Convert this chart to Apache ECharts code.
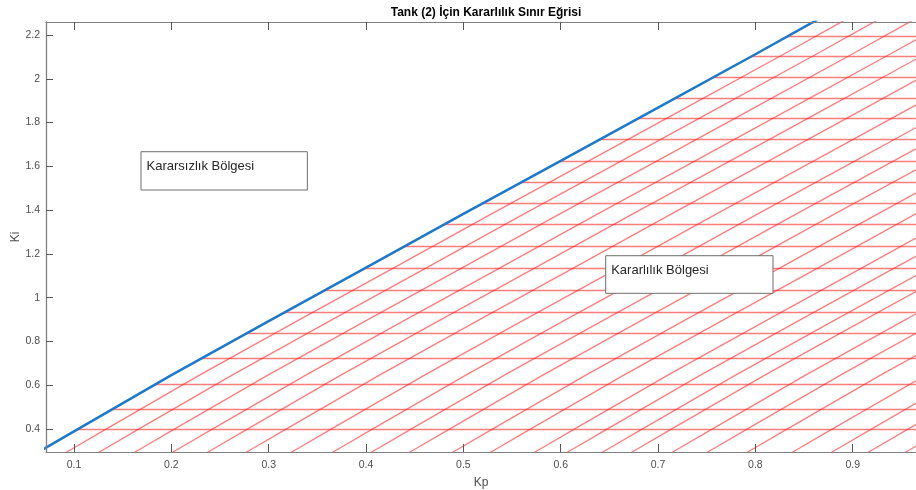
<!DOCTYPE html>
<html>
<head>
<meta charset="utf-8">
<script src="https://cdn.jsdelivr.net/npm/echarts@6/dist/echarts.min.js"></script>
<style>
  html, body { margin: 0; padding: 0; background: #ffffff; }
  #chart { width: 916px; height: 490px; }
</style>
</head>
<body>
<div id="chart"></div>
<script>
// Stability boundary of tank 2: Ki limit as a function of Kp
const boundaryKp = [0.0578, 0.0712, 0.1, 0.2, 0.3, 0.4, 0.5, 0.6, 0.7, 0.8, 0.8592, 0.876];
const boundaryKi = [0.28, 0.3146, 0.389, 0.646, 0.893, 1.137, 1.383, 1.625, 1.868, 2.112, 2.259, 2.30];

// Axis tick labels
const kpTicks = [0.1, 0.2, 0.3, 0.4, 0.5, 0.6, 0.7, 0.8, 0.9];
const kiTicks = [0.4, 0.6, 0.8, 1, 1.2, 1.4, 1.6, 1.8, 2, 2.2];

// Hatching of the stable region: horizontal levels and Kp shifts of the boundary copies
const hatchKi = [0.4, 0.49, 0.605, 0.721, 0.837, 0.933, 1.034, 1.134, 1.235, 1.335,
                 1.431, 1.528, 1.625, 1.722, 1.82, 1.911, 2.005, 2.101, 2.195];
const hatchShiftKp = [0.0289, 0.0624, 0.0991, 0.1381, 0.1741, 0.2138, 0.2601, 0.3025,
                      0.3422, 0.3816, 0.4258, 0.4648, 0.51, 0.5436, 0.5796, 0.6097,
                      0.6515, 0.6874, 0.7285, 0.7748, 0.8151, 0.8528, 0.891];

// Region names
const unstableName = 'Kararsızlık Bölgesi';
const stableName = 'Kararlılık Bölgesi';

const X_MIN = 0.0712, X_MAX = 0.965;
const Y_MIN = 0.2949, Y_MAX = 2.2594;

const FONT = '"Liberation Sans", Arial, Helvetica, sans-serif';
const AXIS_GRAY = '#808080';
const TEXT_GRAY = '#4d4d4d';
const HATCH = 'rgba(255, 30, 30, 0.58)';

const boundary = boundaryKp.map((p, i) => [p, boundaryKi[i]]);

const horizontalHatch = hatchKi.map(k => ({ coords: [[X_MIN, k], [X_MAX, k]] }));
const diagonalHatch = hatchShiftKp.map(s => ({
  coords: boundaryKp.map((p, i) => [p + s, boundaryKi[i]])
}));

function boxItem(name, x1, y1, x2, y2) {
  return [
    {
      name: name,
      coord: [x1, y1],
      itemStyle: { color: '#ffffff', borderColor: '#6e6e6e', borderWidth: 1, opacity: 1 },
      label: {
        show: true,
        position: 'insideTopLeft',
        distance: 6,
        padding: [3, 0, 0, 0],
        color: '#262626',
        fontFamily: FONT,
        fontSize: 13
      }
    },
    { coord: [x2, y2] }
  ];
}

const chart = echarts.init(document.getElementById('chart'), null, { renderer: 'canvas' });

chart.setOption({
  animation: false,
  backgroundColor: '#ffffff',
  title: {
    text: 'Tank (2) İçin Kararlılık Sınır Eğrisi',
    left: 481,
    textAlign: 'center',
    top: 2,
    textStyle: { fontFamily: FONT, fontSize: 12, fontWeight: 'bold', color: '#000000' }
  },
  grid: { left: 46, right: 0, top: 22, bottom: 38, containLabel: false, outerBoundsMode: 'none' },
  xAxis: [
    {
      type: 'value',
      min: X_MIN,
      max: X_MAX,
      z: 10,
      name: 'Kp',
      nameLocation: 'middle',
      nameGap: 25,
      nameMoveOverlap: false,
      nameTextStyle: { fontFamily: FONT, fontSize: 12, color: TEXT_GRAY },
      axisLine: { show: true, lineStyle: { color: AXIS_GRAY, width: 1 } },
      axisTick: { show: true, inside: true, length: 8, customValues: kpTicks,
                  lineStyle: { color: '#555555', width: 1 } },
      axisLabel: { show: true, customValues: kpTicks, margin: 8,
                   fontFamily: FONT, fontSize: 10.5, color: TEXT_GRAY },
      splitLine: { show: false }
    },
    {
      type: 'value',
      position: 'top',
      min: X_MIN,
      max: X_MAX,
      z: 10,
      axisLine: { show: true, lineStyle: { color: AXIS_GRAY, width: 1 } },
      axisTick: { show: true, inside: true, length: 8, customValues: kpTicks,
                  lineStyle: { color: '#555555', width: 1 } },
      axisLabel: { show: false },
      splitLine: { show: false }
    }
  ],
  yAxis: {
    type: 'value',
    min: Y_MIN,
    max: Y_MAX,
    z: 10,
    name: 'Ki',
    nameLocation: 'middle',
    nameGap: 24,
    nameMoveOverlap: false,
    nameRotate: 90,
    nameTextStyle: { fontFamily: FONT, fontSize: 12, color: TEXT_GRAY },
    axisLine: { show: true, lineStyle: { color: AXIS_GRAY, width: 1.3 } },
    axisTick: { show: true, inside: true, length: 7, customValues: kiTicks,
                lineStyle: { color: '#555555', width: 1 } },
    axisLabel: { show: true, customValues: kiTicks, margin: 6,
                 fontFamily: FONT, fontSize: 10.5, color: TEXT_GRAY },
    splitLine: { show: false }
  },
  series: [
    {
      name: 'hatch-horizontal',
      type: 'lines',
      coordinateSystem: 'cartesian2d',
      clip: true,
      silent: true,
      z: 2,
      lineStyle: { color: HATCH, width: 1.3, opacity: 1 },
      data: horizontalHatch
    },
    {
      name: 'hatch-diagonal',
      type: 'lines',
      coordinateSystem: 'cartesian2d',
      polyline: true,
      clip: true,
      silent: true,
      z: 2,
      lineStyle: { color: HATCH, width: 1.3, opacity: 1 },
      data: diagonalHatch
    },
    {
      // white cover over the unstable side of the boundary
      name: 'unstable-region',
      type: 'line',
      data: boundary,
      clip: true,
      silent: true,
      z: 3,
      symbol: 'none',
      lineStyle: { width: 0, opacity: 0 },
      areaStyle: { color: '#ffffff', opacity: 1, origin: 'end' }
    },
    {
      name: 'boundary',
      type: 'line',
      data: boundary,
      clip: true,
      z: 4,
      symbol: 'none',
      lineStyle: { color: '#1f78c8', width: 2.5 }
    },
    {
      name: 'region-labels',
      type: 'line',
      data: [],
      z: 5,
      silent: true,
      markArea: {
        silent: true,
        z: 6,
        data: [
          boxItem(unstableName, 0.1688, 1.6668, 0.3397, 1.4918),
          boxItem(stableName, 0.6462, 1.1917, 0.8181, 1.0199)
        ]
      }
    }
  ]
});
</script>
</body>
</html>
